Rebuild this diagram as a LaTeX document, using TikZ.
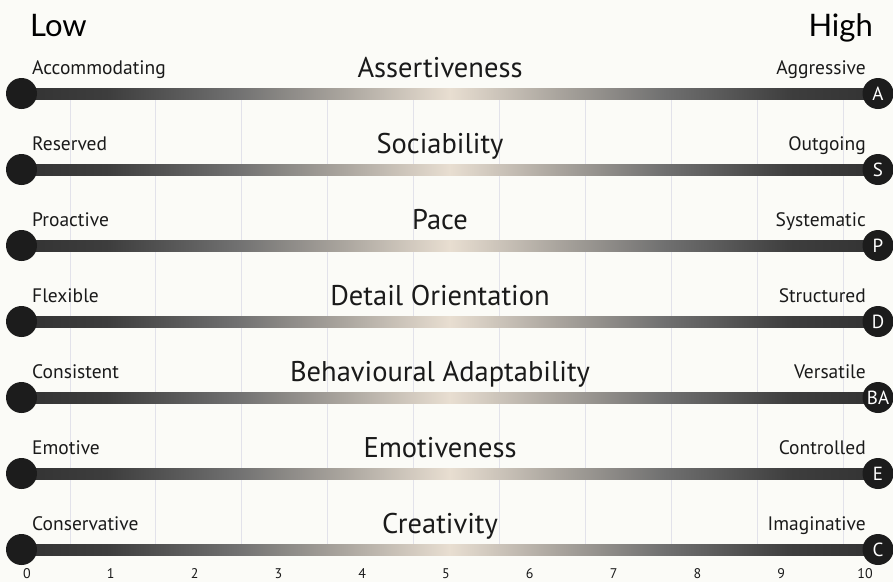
\documentclass[tikz,border=0pt]{standalone}
\usepackage{fontspec}
\setmainfont{PT Sans}
\newfontfamily\headfont{Lato}
\usetikzlibrary{calc}

\definecolor{paper}{HTML}{FBFBF7}
\definecolor{gridc}{HTML}{E2E2EA}
\definecolor{knob}{HTML}{1C1C1C}
\definecolor{inkc}{HTML}{1A1A1A}

% dark ends, warm light centre; the path covers 25bp..75bp
\pgfdeclarehorizontalshading{barshade}{100bp}{%
  color(0bp)=(knob!90!white);
  color(25bp)=(knob!90!white);
  color(30bp)=(black!76);
  color(37.5bp)=(black!56);
  color(43.75bp)=({rgb,255:red,170;green,165;blue,158});
  color(50bp)=({rgb,255:red,232;green,222;blue,209});
  color(56.25bp)=({rgb,255:red,170;green,165;blue,158});
  color(62.5bp)=(black!56);
  color(70bp)=(black!76);
  color(75bp)=(knob!90!white);
  color(100bp)=(knob!90!white)}

\tikzset{
  knobnode/.style={circle, fill=knob, inner sep=0pt, minimum size=31pt,
    text=white, font=\fontsize{19}{21}\selectfont},
  lowlabel/.style={anchor=base west, inner sep=0pt, text=inkc,
    font=\fontsize{19.5}{22}\selectfont},
  highlabel/.style={anchor=base east, inner sep=0pt, text=inkc,
    font=\fontsize{19.5}{22}\selectfont},
  traitname/.style={anchor=base, inner sep=0pt, text=inkc,
    font=\fontsize{28.5}{32}\selectfont},
  scalenum/.style={anchor=base, inner sep=0pt, text=inkc,
    font=\fontsize{14}{16}\selectfont},
  endword/.style={inner sep=0pt, text=black,
    font=\headfont\fontsize{31}{36}\selectfont},
  gridline/.style={draw=gridc, line width=0.9pt},
  barfill/.style={shading=barshade},
}

\begin{document}
\begin{tikzpicture}[x=1pt, y=-1pt]
  \useasboundingbox (0,0) rectangle (893,582);
  \fill[paper] (0,0) rectangle (893,582);

  % vertical grid between the first and last bar
  \foreach \i in {0,...,9} {
    \draw[gridline] ({70+85.9*\i},93) -- ({70+85.9*\i},550);
  }

  \node[endword, anchor=base west] (low) at (30,36) {Low};
  \node[endword, anchor=base east] (high) at (873,36) {High};

  % one row per trait: y, low label, trait, high label, letter
  \foreach \r/\y/\lo/\tr/\hi/\ab in {
      1/93.5/Accommodating/Assertiveness/Aggressive/A,
      2/169.5/Reserved/Sociability/Outgoing/S,
      3/245.5/Proactive/Pace/Systematic/P,
      4/321.5/Flexible/Detail Orientation/Structured/D,
      5/397.5/Consistent/Behavioural Adaptability/Versatile/BA,
      6/473.5/Emotive/Emotiveness/Controlled/E,
      7/549.5/Conservative/Creativity/Imaginative/C} {
    \coordinate (lend\r) at (21.5,\y);
    \coordinate (hend\r) at (878,\y);
    \shade[barfill] ($(lend\r)+(0,-5.5)$) rectangle ($(hend\r)+(0,5.5)$);
    \node[knobnode] (lo\r) at (lend\r) {};
    \node[knobnode] (hi\r) at (hend\r) {\ab};
    \node[lowlabel] (lol\r) at (32,\y-19) {\lo};
    \node[highlabel] (hil\r) at (866,\y-19) {\hi};
    \node[traitname] (trt\r) at (440,\y-16.5) {\tr};
  }

  % scale numbers along the bottom
  \foreach \n in {0,...,10} {
    \node[scalenum] (num\n) at ({27+83.8*\n},578.5) {\n};
  }
\end{tikzpicture}
\end{document}
